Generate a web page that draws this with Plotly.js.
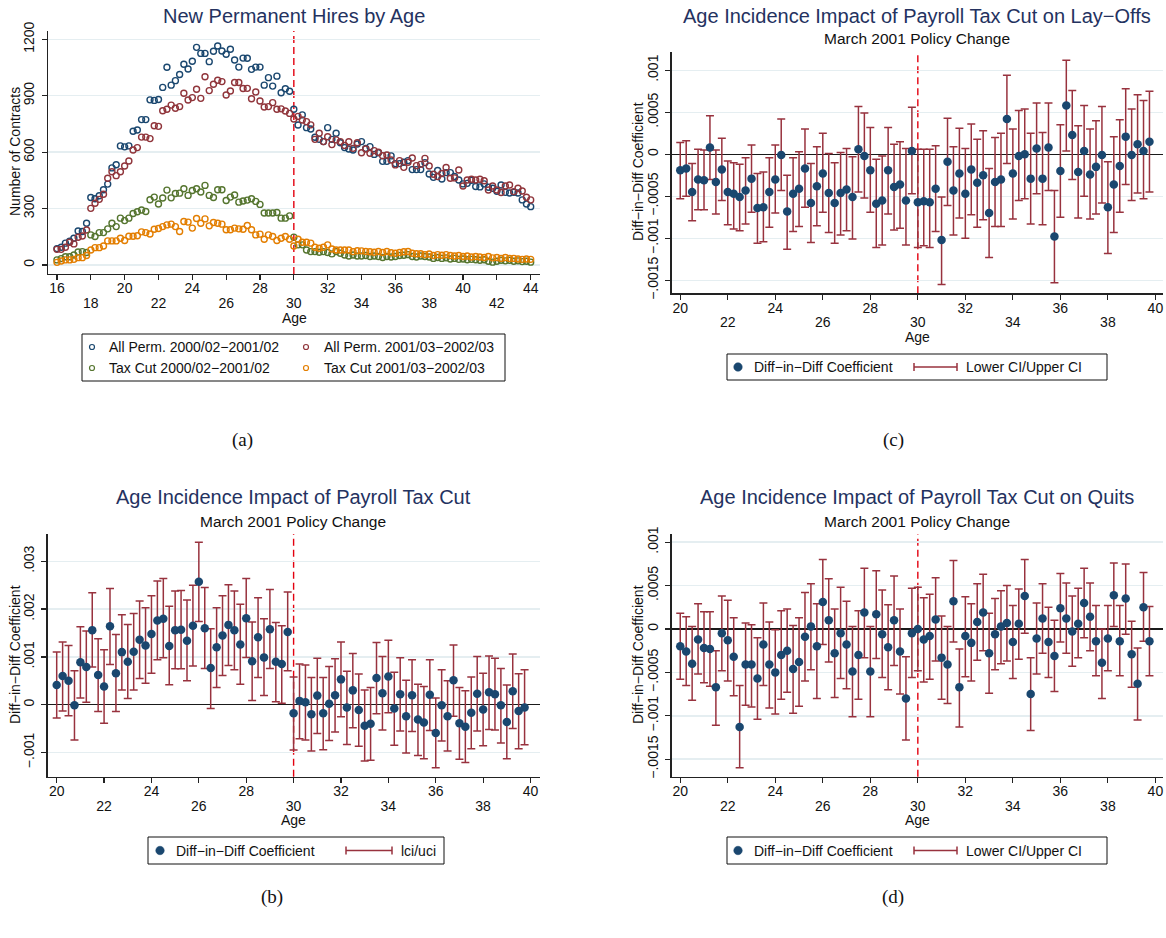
<!DOCTYPE html>
<html><head><meta charset="utf-8">
<script src="https://cdn.plot.ly/plotly-3.0.1.min.js"></script>
<style>html,body{margin:0;padding:0;background:#fff}#chart{width:1166px;height:938px}</style>
</head><body><div id="chart"></div>
<script>
// ---------------- DATA ----------------
// Panel (a): New permanent hires by age (quarterly ages 16 .. 44)
const agesA = [16,16.25,16.5,16.75,17,17.25,17.5,17.75,18,18.25,18.5,18.75,19,19.25,19.5,19.75,
20,20.25,20.5,20.75,21,21.25,21.5,21.75,22,22.25,22.5,22.75,23,23.25,23.5,23.75,
24,24.25,24.5,24.75,25,25.25,25.5,25.75,26,26.25,26.5,26.75,27,27.25,27.5,27.75,
28,28.25,28.5,28.75,29,29.25,29.5,29.75,30,30.25,30.5,30.75,31,31.25,31.5,31.75,
32,32.25,32.5,32.75,33,33.25,33.5,33.75,34,34.25,34.5,34.75,35,35.25,35.5,35.75,
36,36.25,36.5,36.75,37,37.25,37.5,37.75,38,38.25,38.5,38.75,39,39.25,39.5,39.75,
40,40.25,40.5,40.75,41,41.25,41.5,41.75,42,42.25,42.5,42.75,43,43.25,43.5,43.75,44];
const allPermPre = [87,94,116,126,142,181,178,222,359,352,368,400,430,516,533,633,
628,633,711,718,773,773,878,875,880,944,1051,956,980,1013,1067,1042,
1083,1157,1125,1125,1081,1136,1164,1138,1120,1147,1090,1052,1100,1099,1040,1052,
1052,956,996,951,1004,916,937,924,828,744,798,730,723,679,668,656,
730,668,700,650,624,617,611,643,656,620,629,588,597,551,551,580,
539,539,546,555,507,507,507,544,484,466,502,457,491,491,470,452,
431,434,450,417,415,431,413,408,392,425,386,383,386,383,346,324,310];
const allPermPost = [83,83,94,121,112,147,154,186,301,328,349,376,461,496,475,496,
526,553,611,624,680,680,672,740,737,820,828,850,833,842,913,877,
890,934,886,1001,927,961,982,975,904,925,970,970,938,939,884,920,
872,840,842,863,828,830,819,806,776,790,771,762,745,668,700,656,
682,640,665,656,635,655,620,650,597,617,594,608,599,581,585,558,
532,555,519,546,569,528,535,567,526,482,470,486,518,461,463,505,
420,452,456,452,456,448,399,420,399,385,420,425,390,408,393,360,346];
const taxCutPre = [27,34,44,44,53,69,71,66,160,151,172,172,192,222,204,249,
236,249,274,283,292,284,347,361,324,356,398,357,380,382,405,370,
396,405,388,423,370,359,400,400,343,361,372,334,340,345,352,338,
322,276,276,276,279,249,249,261,148,107,107,80,71,71,68,71,
66,59,71,62,53,48,53,48,48,50,45,48,45,40,45,42,
45,50,52,55,45,42,48,45,42,35,40,35,38,32,35,30,
32,28,30,28,25,28,20,15,20,25,22,25,20,22,18,20,15];
const taxCutPost = [14,21,27,27,30,39,39,50,80,92,92,101,128,128,128,142,
130,153,153,155,176,172,165,190,194,204,213,217,204,178,231,228,
196,247,222,245,208,226,222,217,187,187,196,192,190,210,187,160,
164,137,160,151,130,142,151,137,101,137,121,121,116,94,89,94,
107,85,80,80,80,80,71,76,75,72,70,68,72,66,72,65,
62,66,70,72,62,60,60,55,58,50,55,52,55,50,48,50,
45,48,42,45,42,40,45,38,40,35,40,35,35,32,30,32,30];

// Panels (b), (c), (d): quarterly ages 20 .. 39.75
const agesB = [20,20.25,20.5,20.75,21,21.25,21.5,21.75,22,22.25,22.5,22.75,23,23.25,23.5,23.75,
24,24.25,24.5,24.75,25,25.25,25.5,25.75,26,26.25,26.5,26.75,27,27.25,27.5,27.75,
28,28.25,28.5,28.75,29,29.25,29.5,29.75,30,30.25,30.5,30.75,31,31.25,31.5,31.75,
32,32.25,32.5,32.75,33,33.25,33.5,33.75,34,34.25,34.5,34.75,35,35.25,35.5,35.75,
36,36.25,36.5,36.75,37,37.25,37.5,37.75,38,38.25,38.5,38.75,39,39.25,39.5,39.75];

// (b) payroll tax cut (hires)
const coefHires = [0.41e-3,0.60e-3,0.50e-3,-0.01e-3,0.89e-3,0.79e-3,1.56e-3,0.62e-3,0.38e-3,1.64e-3,0.66e-3,1.10e-3,0.90e-3,1.11e-3,1.36e-3,1.24e-3,
1.48e-3,1.76e-3,1.80e-3,1.23e-3,1.56e-3,1.57e-3,1.34e-3,1.65e-3,2.57e-3,1.60e-3,0.77e-3,1.20e-3,1.45e-3,1.67e-3,1.56e-3,1.26e-3,
1.81e-3,0.91e-3,1.41e-3,0.99e-3,1.58e-3,0.90e-3,0.85e-3,1.52e-3,-0.18e-3,0.08e-3,0.05e-3,-0.20e-3,0.19e-3,-0.18e-3,0.02e-3,0.20e-3,
0.53e-3,-0.06e-3,0.30e-3,-0.11e-3,-0.44e-3,-0.40e-3,0.56e-3,0.24e-3,0.59e-3,-0.08e-3,0.22e-3,-0.24e-3,0.20e-3,-0.31e-3,-0.37e-3,0.21e-3,
-0.59e-3,-0.01e-3,-0.24e-3,0.51e-3,-0.39e-3,-0.46e-3,-0.17e-3,0.23e-3,-0.10e-3,0.26e-3,0.22e-3,-0.01e-3,-0.36e-3,0.28e-3,-0.13e-3,-0.06e-3];
const uciHires = [1.10e-3,1.31e-3,1.24e-3,0.71e-3,1.63e-3,1.54e-3,2.34e-3,1.38e-3,1.15e-3,2.43e-3,1.47e-3,1.88e-3,1.68e-3,1.91e-3,2.17e-3,2.03e-3,
2.28e-3,2.59e-3,2.64e-3,2.06e-3,2.38e-3,2.39e-3,2.19e-3,2.50e-3,3.40e-3,2.45e-3,1.59e-3,2.03e-3,2.28e-3,2.51e-3,2.38e-3,2.10e-3,
2.64e-3,1.73e-3,2.24e-3,1.80e-3,2.41e-3,1.72e-3,1.65e-3,2.36e-3,0.58e-3,0.85e-3,0.83e-3,0.57e-3,0.97e-3,0.57e-3,0.80e-3,0.96e-3,
1.31e-3,0.70e-3,1.07e-3,0.64e-3,0.31e-3,0.36e-3,1.30e-3,1.01e-3,1.35e-3,0.68e-3,0.98e-3,0.51e-3,0.94e-3,0.43e-3,0.38e-3,0.94e-3,
0.14e-3,0.73e-3,0.50e-3,1.25e-3,0.36e-3,0.29e-3,0.58e-3,1.01e-3,0.66e-3,1.02e-3,0.97e-3,0.76e-3,0.41e-3,1.06e-3,0.65e-3,0.73e-3];
const lciHires = [-0.28e-3,-0.13e-3,-0.23e-3,-0.74e-3,0.14e-3,0.05e-3,0.79e-3,-0.14e-3,-0.39e-3,0.84e-3,-0.14e-3,0.31e-3,0.13e-3,0.31e-3,0.55e-3,0.45e-3,
0.66e-3,0.94e-3,0.98e-3,0.42e-3,0.75e-3,0.75e-3,0.50e-3,0.81e-3,1.74e-3,0.76e-3,-0.08e-3,0.36e-3,0.61e-3,0.82e-3,0.73e-3,0.43e-3,
0.99e-3,0.09e-3,0.57e-3,0.19e-3,0.76e-3,0.06e-3,0.03e-3,0.71e-3,-0.95e-3,-0.71e-3,-0.74e-3,-0.97e-3,-0.60e-3,-0.94e-3,-0.75e-3,-0.57e-3,
-0.25e-3,-0.83e-3,-0.48e-3,-0.87e-3,-1.18e-3,-1.16e-3,-0.19e-3,-0.53e-3,-0.17e-3,-0.85e-3,-0.55e-3,-1.01e-3,-0.56e-3,-1.06e-3,-1.13e-3,-0.54e-3,
-1.32e-3,-0.76e-3,-0.97e-3,-0.24e-3,-1.14e-3,-1.21e-3,-0.92e-3,-0.55e-3,-0.86e-3,-0.52e-3,-0.53e-3,-0.80e-3,-1.13e-3,-0.50e-3,-0.92e-3,-0.84e-3];

// (c) lay-offs
const coefLayoffs = [-0.19e-3,-0.17e-3,-0.45e-3,-0.30e-3,-0.31e-3,0.08e-3,-0.33e-3,-0.18e-3,-0.45e-3,-0.47e-3,-0.51e-3,-0.43e-3,-0.29e-3,-0.64e-3,-0.63e-3,-0.45e-3,
-0.30e-3,-0.01e-3,-0.68e-3,-0.47e-3,-0.41e-3,-0.17e-3,-0.58e-3,-0.38e-3,-0.23e-3,-0.46e-3,-0.58e-3,-0.46e-3,-0.42e-3,-0.51e-3,0.06e-3,-0.02e-3,
-0.19e-3,-0.59e-3,-0.55e-3,-0.19e-3,-0.39e-3,-0.36e-3,-0.55e-3,0.04e-3,-0.57e-3,-0.56e-3,-0.57e-3,-0.41e-3,-1.02e-3,-0.09e-3,-0.43e-3,-0.23e-3,
-0.47e-3,-0.18e-3,-0.34e-3,-0.25e-3,-0.70e-3,-0.33e-3,-0.30e-3,0.42e-3,-0.23e-3,-0.02e-3,0.00e-3,-0.29e-3,0.07e-3,-0.29e-3,0.08e-3,-0.98e-3,
-0.20e-3,0.58e-3,0.23e-3,-0.21e-3,0.04e-3,-0.24e-3,-0.15e-3,-0.01e-3,-0.63e-3,-0.36e-3,-0.14e-3,0.21e-3,-0.01e-3,0.12e-3,0.04e-3,0.15e-3];
const uciLayoffs = [0.14e-3,0.16e-3,-0.11e-3,0.06e-3,0.05e-3,0.46e-3,0.05e-3,0.19e-3,-0.08e-3,-0.10e-3,-0.12e-3,-0.04e-3,0.11e-3,-0.23e-3,-0.21e-3,-0.04e-3,
0.11e-3,0.42e-3,-0.25e-3,-0.04e-3,0.03e-3,0.30e-3,-0.11e-3,0.09e-3,0.25e-3,0.01e-3,-0.10e-3,0.02e-3,0.07e-3,-0.03e-3,0.57e-3,0.49e-3,
0.32e-3,-0.06e-3,-0.02e-3,0.32e-3,0.12e-3,0.15e-3,0.07e-3,0.56e-3,0.06e-3,0.06e-3,0.06e-3,0.10e-3,-0.51e-3,0.43e-3,0.09e-3,0.31e-3,
0.07e-3,0.36e-3,0.18e-3,0.28e-3,-0.17e-3,0.20e-3,0.25e-3,0.94e-3,0.30e-3,0.52e-3,0.54e-3,0.25e-3,0.61e-3,0.26e-3,0.61e-3,-0.43e-3,
0.35e-3,1.12e-3,0.76e-3,0.34e-3,0.58e-3,0.30e-3,0.40e-3,0.57e-3,-0.09e-3,0.21e-3,0.41e-3,0.78e-3,0.54e-3,0.71e-3,0.64e-3,0.75e-3];
const lciLayoffs = [-0.53e-3,-0.50e-3,-0.79e-3,-0.66e-3,-0.66e-3,-0.30e-3,-0.71e-3,-0.55e-3,-0.84e-3,-0.89e-3,-0.91e-3,-0.83e-3,-0.69e-3,-1.06e-3,-1.04e-3,-0.87e-3,
-0.70e-3,-0.43e-3,-1.13e-3,-0.92e-3,-0.86e-3,-0.63e-3,-1.05e-3,-0.85e-3,-0.69e-3,-0.93e-3,-1.06e-3,-0.96e-3,-0.91e-3,-1.01e-3,-0.45e-3,-0.52e-3,
-0.69e-3,-1.11e-3,-1.08e-3,-0.71e-3,-0.90e-3,-0.88e-3,-1.08e-3,-0.47e-3,-1.11e-3,-1.09e-3,-1.11e-3,-0.92e-3,-1.55e-3,-0.61e-3,-0.96e-3,-0.76e-3,
-1.00e-3,-0.72e-3,-0.87e-3,-0.78e-3,-1.23e-3,-0.86e-3,-0.86e-3,-0.11e-3,-0.77e-3,-0.55e-3,-0.53e-3,-0.83e-3,-0.47e-3,-0.84e-3,-0.43e-3,-1.53e-3,
-0.75e-3,0.04e-3,-0.30e-3,-0.76e-3,-0.50e-3,-0.77e-3,-0.71e-3,-0.58e-3,-1.18e-3,-0.93e-3,-0.69e-3,-0.36e-3,-0.55e-3,-0.46e-3,-0.53e-3,-0.45e-3];

// (d) quits
const coefQuits = [-0.20e-3,-0.26e-3,-0.40e-3,-0.12e-3,-0.22e-3,-0.23e-3,-0.67e-3,-0.05e-3,-0.13e-3,-0.32e-3,-1.13e-3,-0.41e-3,-0.41e-3,-0.57e-3,-0.18e-3,-0.41e-3,
-0.50e-3,-0.30e-3,-0.25e-3,-0.46e-3,-0.38e-3,-0.09e-3,0.03e-3,-0.20e-3,0.31e-3,0.10e-3,-0.28e-3,-0.05e-3,-0.18e-3,-0.49e-3,-0.30e-3,0.19e-3,
-0.49e-3,0.17e-3,-0.06e-3,-0.21e-3,0.10e-3,-0.26e-3,-0.80e-3,-0.05e-3,0.00e-3,-0.12e-3,-0.08e-3,0.11e-3,-0.33e-3,-0.41e-3,0.32e-3,-0.67e-3,
-0.08e-3,-0.16e-3,0.08e-3,0.19e-3,-0.28e-3,-0.06e-3,0.03e-3,0.07e-3,-0.15e-3,0.06e-3,0.38e-3,-0.75e-3,-0.11e-3,0.12e-3,-0.15e-3,-0.31e-3,
0.24e-3,0.12e-3,-0.03e-3,0.06e-3,0.30e-3,0.14e-3,-0.14e-3,-0.39e-3,-0.11e-3,0.39e-3,-0.14e-3,0.35e-3,-0.29e-3,-0.63e-3,0.25e-3,-0.14e-3];
const uciQuits = [0.18e-3,0.14e-3,0.03e-3,0.29e-3,0.20e-3,0.20e-3,-0.25e-3,0.38e-3,0.33e-3,0.13e-3,-0.65e-3,0.07e-3,0.05e-3,-0.10e-3,0.30e-3,0.08e-3,
-0.01e-3,0.21e-3,0.23e-3,0.04e-3,0.13e-3,0.42e-3,0.52e-3,0.29e-3,0.80e-3,0.58e-3,0.23e-3,0.48e-3,0.32e-3,0.03e-3,0.21e-3,0.70e-3,
0.03e-3,0.67e-3,0.45e-3,0.28e-3,0.61e-3,0.23e-3,-0.32e-3,0.47e-3,0.48e-3,0.36e-3,0.40e-3,0.59e-3,0.15e-3,0.03e-3,0.79e-3,-0.23e-3,
0.37e-3,0.29e-3,0.52e-3,0.63e-3,0.18e-3,0.35e-3,0.44e-3,0.50e-3,0.27e-3,0.46e-3,0.80e-3,-0.33e-3,0.30e-3,0.52e-3,0.25e-3,0.10e-3,
0.64e-3,0.53e-3,0.38e-3,0.47e-3,0.70e-3,0.53e-3,0.27e-3,0.00e-3,0.27e-3,0.76e-3,0.27e-3,0.75e-3,0.09e-3,-0.22e-3,0.65e-3,0.26e-3];
const lciQuits = [-0.58e-3,-0.65e-3,-0.82e-3,-0.52e-3,-0.62e-3,-0.66e-3,-1.11e-3,-0.48e-3,-0.60e-3,-0.77e-3,-1.60e-3,-0.88e-3,-0.90e-3,-1.04e-3,-0.65e-3,-0.91e-3,
-0.98e-3,-0.81e-3,-0.73e-3,-0.97e-3,-0.89e-3,-0.60e-3,-0.47e-3,-0.80e-3,-0.18e-3,-0.38e-3,-0.79e-3,-0.57e-3,-0.69e-3,-1.01e-3,-0.81e-3,-0.33e-3,
-1.01e-3,-0.34e-3,-0.56e-3,-0.70e-3,-0.42e-3,-0.75e-3,-1.28e-3,-0.56e-3,-0.48e-3,-0.61e-3,-0.58e-3,-0.37e-3,-0.81e-3,-0.86e-3,-0.15e-3,-1.13e-3,
-0.55e-3,-0.60e-3,-0.36e-3,-0.25e-3,-0.74e-3,-0.47e-3,-0.40e-3,-0.37e-3,-0.57e-3,-0.35e-3,-0.05e-3,-1.17e-3,-0.52e-3,-0.28e-3,-0.56e-3,-0.72e-3,
-0.15e-3,-0.28e-3,-0.43e-3,-0.33e-3,-0.10e-3,-0.25e-3,-0.54e-3,-0.80e-3,-0.48e-3,0.03e-3,-0.54e-3,-0.06e-3,-0.67e-3,-1.05e-3,-0.14e-3,-0.54e-3];

// Tick labels (Stata-style alternating rows)
const xTicksA = [16,18,20,22,24,26,28,30,32,34,36,38,40,42,44];
const xLabelsA = ['16','','20','','24','','28','','32','','36','','40','','44'];
const xTicksA2 = [18,22,26,30,34,38,42];
const xLabelsA2 = ['18','22','26','30','34','38','42'];
const xTicksB = [20,22,24,26,28,30,32,34,36,38,40];
const xLabelsB = ['20','','24','','28','','32','','36','','40'];
const xTicksB2 = [22,26,30,34,38];
const xLabelsB2 = ['22','26','30','34','38'];
const yTicksA = [0,300,600,900,1200];
const yLabelsA = ['0','300','600','900','1200'];
const yTicksHires = [-0.001,0,0.001,0.002,0.003];
const yLabelsHires = ['\u2212.001','0','.001','.002','.003'];
const yTicksSep = [-0.0015,-0.001,-0.0005,0,0.0005,0.001];
const yLabelsSep = ['\u2212.0015','\u2212.001','\u2212.0005','0','.0005','.001'];
const policyAge = 30;

// ---------------- STYLE / LAYOUT ----------------
const W = 1166, H = 938;
const px = v => v / W;
const py = v => 1 - v / H;
const FONT = 'Liberation Sans, Arial, Helvetica, sans-serif';
const FS = 14;
const NAVY = '#1a476f', MAROON = '#90353b', GREEN = '#55752f', ORANGE = '#e37e00';
const CI = '#98323e', TITLE = '#24325f', GRID = '#e5eef1';

function xAxis(domain, range, vals, text, anchor) {
  return {domain, range, anchor, tickmode:'array', tickvals: vals, ticktext: text,
    ticks:'outside', ticklen:5, tickwidth:1.2, tickcolor:'#222', showline:true, linecolor:'#222', linewidth:1.4,
    showgrid:false, zeroline:false, tickfont:{family:FONT, size:FS, color:'#111'}, ticklabelstandoff:-4,
    automargin:false, fixedrange:true};
}
function xAxis2(over, domain, range, vals, text, anchor) {
  return {overlaying: over, domain, range, anchor, tickmode:'array', tickvals: vals, ticktext: text,
    ticks:'outside', ticklen:5, tickcolor:'rgba(0,0,0,0)', showline:false, showgrid:false, zeroline:false,
    tickfont:{family:FONT, size:FS, color:'#111'}, ticklabelstandoff:11, automargin:false, fixedrange:true};
}
function yAxis(domain, range, vals, text, anchor, zero) {
  return {domain, range, anchor, tickmode:'array', tickvals: vals, ticktext: text, tickangle:-90,
    ticks:'outside', ticklen:5, tickwidth:1.2, tickcolor:'#222', showline:true, linecolor:'#222', linewidth:1.4,
    showgrid:true, gridcolor:GRID, gridwidth:1.5, zeroline:zero, zerolinecolor:'#1a1a1a', zerolinewidth:1.5,
    tickfont:{family:FONT, size:FS, color:'#111'}, ticklabelstandoff:2, automargin:false, fixedrange:true};
}

const traces = [];
function hollow(y, color, name) {
  traces.push({type:'scatter', mode:'markers', x: agesA, y, name, xaxis:'x', yaxis:'y', showlegend:false,
    marker:{symbol:'circle-open', size:6, color, line:{color, width:1.4}}, hoverinfo:'skip'});
}
hollow(allPermPre, NAVY, 'All Perm. 2000/02\u20132001/02');
hollow(allPermPost, MAROON, 'All Perm. 2001/03\u20132002/03');
hollow(taxCutPre, GREEN, 'Tax Cut 2000/02\u20132001/02');
hollow(taxCutPost, ORANGE, 'Tax Cut 2001/03\u20132002/03');

function coefTrace(coef, lci, uci, xa, ya) {
  traces.push({type:'scatter', mode:'markers', x: agesB, y: coef, xaxis: xa, yaxis: ya, showlegend:false,
    marker:{symbol:'circle', size:8.5, color:NAVY},
    error_y:{type:'data', symmetric:false, array: uci.map((u,i)=>u-coef[i]), arrayminus: coef.map((c,i)=>c-lci[i]),
      color:CI, thickness:1.5, width:4}, hoverinfo:'skip'});
}
coefTrace(coefHires, lciHires, uciHires, 'x2', 'y2');
coefTrace(coefLayoffs, lciLayoffs, uciLayoffs, 'x3', 'y3');
coefTrace(coefQuits, lciQuits, uciQuits, 'x4', 'y4');
// empty carriers for the second row of age labels
[['x5','y'],['x6','y2'],['x7','y3'],['x8','y4']].forEach(p => traces.push({type:'scatter', mode:'markers', x:[], y:[], xaxis:p[0], yaxis:p[1], showlegend:false, hoverinfo:'skip'}));

// geometry of the four plot areas (page pixels)
const A = {l:48, r:540, t:31, b:274};
const B = {l:47.7, r:539.5, t:534, b:776.7};
const C = {l:671.7, r:1163, t:51.7, b:293.3};
const D = {l:671.7, r:1163, t:534.3, b:776.7};
const dom = g => ({x:[px(g.l), px(g.r)], y:[py(g.b), py(g.t)]});
const rA = [15.47, 44.55], rB = [19.62, 40.38], rC = [19.64, 40.32];

const layout = {
  width: W, height: H, margin:{l:0,r:0,t:0,b:0}, paper_bgcolor:'#fff', plot_bgcolor:'#fff', showlegend:false,
  font:{family:FONT, color:'#111'},
  xaxis: xAxis(dom(A).x, rA, xTicksA, xLabelsA, 'y'),
  yaxis: yAxis(dom(A).y, [-48, 1244], yTicksA, yLabelsA, 'x', false),
  xaxis2: xAxis(dom(B).x, rB, xTicksB, xLabelsB, 'y2'),
  yaxis2: yAxis(dom(B).y, [-1.506e-3, 3.571e-3], yTicksHires, yLabelsHires, 'x2', true),
  xaxis3: xAxis(dom(C).x, rC, xTicksB, xLabelsB, 'y3'),
  yaxis3: yAxis(dom(C).y, [-1.655e-3, 1.221e-3], yTicksSep, yLabelsSep, 'x3', true),
  xaxis4: xAxis(dom(D).x, rC, xTicksB, xLabelsB, 'y4'),
  yaxis4: yAxis(dom(D).y, [-1.702e-3, 1.091e-3], yTicksSep, yLabelsSep, 'x4', true),
  xaxis5: xAxis2('x', dom(A).x, rA, xTicksA2, xLabelsA2, 'y'),
  xaxis6: xAxis2('x2', dom(B).x, rB, xTicksB2, xLabelsB2, 'y2'),
  xaxis7: xAxis2('x3', dom(C).x, rC, xTicksB2, xLabelsB2, 'y3'),
  xaxis8: xAxis2('x4', dom(D).x, rC, xTicksB2, xLabelsB2, 'y4'),
  shapes: [], annotations: []
};

// policy change lines
['', '2', '3', '4'].forEach(s => {
  layout.shapes.push({type:'line', xref:'x'+s, yref:'paper', x0:policyAge, x1:policyAge,
    y0: layout['yaxis'+s].domain[0], y1: layout['yaxis'+s].domain[1],
    line:{color:'#e3000f', width:1.4, dash:'7px,4px'}, layer:'below'});
});

function text(t, x, y, opt) {
  layout.annotations.push(Object.assign({text:t, x:px(x), y:py(y), xref:'paper', yref:'paper', showarrow:false,
    xanchor:'center', yanchor:'middle', font:{family:FONT, size:FS, color:'#111'}}, opt||{}));
}
const TF = {family:FONT, size:20, color:TITLE};
const SF = {family:FONT, size:15.5, color:'#111'};
// titles
text('New Permanent Hires by Age', 294, 16, {font:TF});
text('Age Incidence Impact of Payroll Tax Cut on Lay\u2212Offs', 917, 16, {font:TF});
text('March 2001 Policy Change', 917, 39, {font:SF});
text('Age Incidence Impact of Payroll Tax Cut', 293, 497, {font:TF});
text('March 2001 Policy Change', 293, 521, {font:SF});
text('Age Incidence Impact of Payroll Tax Cut on Quits', 917, 497, {font:TF});
text('March 2001 Policy Change', 917, 521, {font:SF});
// axis titles
text('Number of Contracts', 15, 152, {textangle:-90});
text('Age', 294, 318);
text('Diff\u2212in\u2212Diff Coefficient', 638, 172, {textangle:-90});
text('Age', 917, 337);
text('Diff\u2212in\u2212Diff Coefficient', 15, 655, {textangle:-90});
text('Age', 293, 820);
text('Diff\u2212in\u2212Diff Coefficient', 638, 655, {textangle:-90});
text('Age', 917, 820);
// captions
const SERIF = 'Liberation Serif, DejaVu Serif, serif';
text('(a)', 242, 440, {font:{family:SERIF, size:19, color:'#111'}});
text('(c)', 893, 440, {font:{family:SERIF, size:19, color:'#111'}});
text('(b)', 272, 897, {font:{family:SERIF, size:19, color:'#111'}});
text('(d)', 893, 897, {font:{family:SERIF, size:19, color:'#111'}});

// legends (drawn as decorations)
function box(l, t, r, b) {
  layout.shapes.push({type:'rect', xref:'paper', yref:'paper', x0:px(l), x1:px(r), y0:py(b), y1:py(t),
    line:{color:'#111', width:1}, fillcolor:'rgba(0,0,0,0)'});
}
function circ(cx, cy, d, color, filled) {
  layout.shapes.push({type:'circle', xref:'paper', yref:'paper', x0:px(cx-d/2), x1:px(cx+d/2), y0:py(cy+d/2), y1:py(cy-d/2),
    line:{color, width: filled ? 0.5 : 1.2}, fillcolor: filled ? color : 'rgba(0,0,0,0)'});
}
function seg(x0, y0, x1, y1, color, w) {
  layout.shapes.push({type:'line', xref:'paper', yref:'paper', x0:px(x0), x1:px(x1), y0:py(y0), y1:py(y1), line:{color, width:w}});
}
function rcap(l, r, cy) {
  seg(l, cy, r, cy, CI, 1.5); seg(l, cy-4, l, cy+4, CI, 1.5); seg(r, cy-4, r, cy+4, CI, 1.5);
}
// (a)
box(82, 334, 505, 381);
circ(92, 347, 5, NAVY, false); text('All Perm. 2000/02\u22122001/02', 107, 347, {xanchor:'left'});
circ(306, 347, 5, MAROON, false); text('All Perm. 2001/03\u22122002/03', 322, 347, {xanchor:'left'});
circ(92, 368, 5, GREEN, false); text('Tax Cut 2000/02\u22122001/02', 107, 368, {xanchor:'left'});
circ(306, 368, 5, ORANGE, false); text('Tax Cut 2001/03\u22122002/03', 322, 368, {xanchor:'left'});
// (c)
box(727, 354, 1107, 380);
circ(738, 367, 8.5, NAVY, true); text('Diff\u2212in\u2212Diff Coefficient', 752, 367, {xanchor:'left'});
rcap(914, 957, 367); text('Lower CI/Upper CI', 964, 367, {xanchor:'left'});
// (b)
box(148, 837, 444, 864);
circ(160, 850.5, 8.5, NAVY, true); text('Diff\u2212in\u2212Diff Coefficient', 174, 850.5, {xanchor:'left'});
rcap(346, 392, 850.5); text('lci/uci', 399, 850.5, {xanchor:'left'});
// (d)
box(727, 837, 1107, 864);
circ(738, 850.5, 8.5, NAVY, true); text('Diff\u2212in\u2212Diff Coefficient', 752, 850.5, {xanchor:'left'});
rcap(914, 957, 850.5); text('Lower CI/Upper CI', 964, 850.5, {xanchor:'left'});

Plotly.newPlot('chart', traces, layout, {staticPlot:true, displayModeBar:false});
</script></body></html>
